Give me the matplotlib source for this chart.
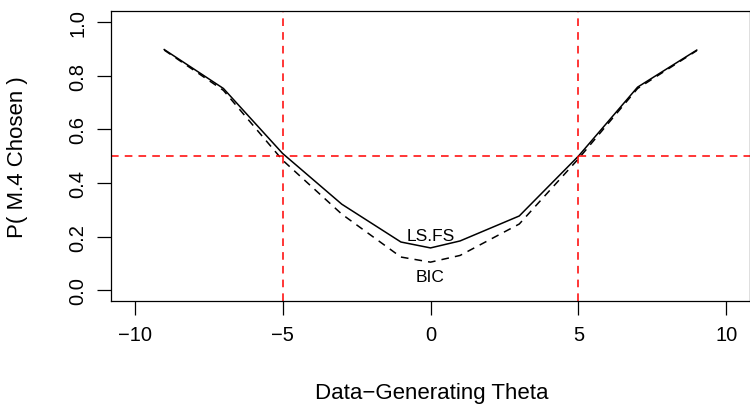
import matplotlib
matplotlib.use("Agg")
import matplotlib.pyplot as plt

theta = [-9, -7, -5, -3, -1, 0, 1, 3, 5, 7, 9]
ls_fs = [0.897, 0.752, 0.510, 0.321, 0.180, 0.158, 0.184, 0.277, 0.500, 0.757, 0.895]
bic = [0.895, 0.745, 0.485, 0.284, 0.124, 0.105, 0.130, 0.247, 0.490, 0.752, 0.893]

plt.rcParams['font.family'] = ['Liberation Sans', 'DejaVu Sans']

fig = plt.figure(figsize=(7.5, 4.06), dpi=100)
ax = fig.add_axes([0.148, 0.256, 0.852, 0.714])

ax.plot(theta, ls_fs, color='black', lw=1.1)
ax.plot(theta, bic, color='black', lw=1.1, dashes=(5, 4))

ax.axvline(-5, color='red', lw=1.1, dashes=(5, 4))
ax.axvline(5, color='red', lw=1.1, dashes=(5, 4))
ax.axhline(0.5, color='red', lw=1.1, dashes=(5, 4))

ax.text(0, 0.205, 'LS.FS', ha='center', va='center', fontsize=12.5)
ax.text(0, 0.05, 'BIC', ha='center', va='center', fontsize=12.5)

ax.set_xlim(-10.8, 10.8)
ax.set_ylim(-0.04, 1.04)
ax.set_xticks([-10, -5, 0, 5, 10])
ax.set_xticklabels(['\u221210', '\u22125', '0', '5', '10'])
ax.set_yticks([0.0, 0.2, 0.4, 0.6, 0.8, 1.0])
ax.set_yticklabels(['0.0', '0.2', '0.4', '0.6', '0.8', '1.0'], rotation=90, va='center')
ax.tick_params(length=10, width=0.9, labelsize=14.5, pad=7)

for s in ax.spines.values():
    s.set_linewidth(0.9)

fig.text(0.576, 0.032, 'Data\u2212Generating Theta', ha='center', va='center', fontsize=16)
fig.text(0.024, 0.613, 'P( M.4 Chosen )', ha='center', va='center', rotation=90, fontsize=16)

fig.savefig('out.png', dpi=100)
